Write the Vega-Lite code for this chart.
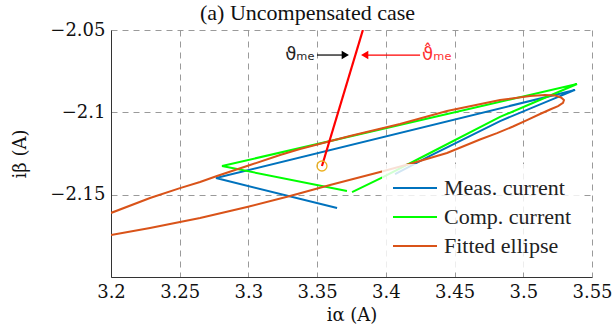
{
  "$schema": "https://vega.github.io/schema/vega-lite/v6.json",
  "width": 481,
  "height": 247,
  "autosize": {"type": "none"},
  "padding": {"left": 111, "top": 30, "right": 21, "bottom": 53},
  "background": "white",
  "title": {"text": "(a) Uncompensated case", "fontSize": 22, "font": "Liberation Serif", "fontWeight": "normal", "color": "#111", "anchor": "middle", "dx": -44, "offset": -4},
  "datasets": {
    "series": [
      {"s": "Meas. current", "o": 1, "x": 3.3645, "y": -2.1581},
      {"s": "Meas. current", "o": 2, "x": 3.2764, "y": -2.1399},
      {"s": "Meas. current", "o": 3, "x": 3.5377, "y": -2.0864},
      {"s": "Meas. current", "o": 4, "x": 3.4831, "y": -2.1053},
      {"s": "Meas. current", "o": 5, "x": 3.4321, "y": -2.1265},
      {"s": "Meas. current", "o": 6, "x": 3.4067, "y": -2.1375},
      {"s": "Comp. current", "o": 1, "x": 3.3754, "y": -2.1484},
      {"s": "Comp. current", "o": 2, "x": 3.3979, "y": -2.1393},
      {"s": "Comp. current", "o": 3, "x": 3.4321, "y": -2.1247},
      {"s": "Comp. current", "o": 4, "x": 3.4831, "y": -2.1028},
      {"s": "Comp. current", "o": 5, "x": 3.5391, "y": -2.0828},
      {"s": "Comp. current", "o": 6, "x": 3.2808, "y": -2.1326},
      {"s": "Comp. current", "o": 7, "x": 3.3717, "y": -2.1478},
      {"s": "Fitted ellipse", "o": 1, "x": 3.2, "y": -2.1611},
      {"s": "Fitted ellipse", "o": 2, "x": 3.2284, "y": -2.152},
      {"s": "Fitted ellipse", "o": 3, "x": 3.2502, "y": -2.146},
      {"s": "Fitted ellipse", "o": 4, "x": 3.2648, "y": -2.1423},
      {"s": "Fitted ellipse", "o": 5, "x": 3.2771, "y": -2.1387},
      {"s": "Fitted ellipse", "o": 6, "x": 3.3012, "y": -2.132},
      {"s": "Fitted ellipse", "o": 7, "x": 3.323, "y": -2.1259},
      {"s": "Fitted ellipse", "o": 8, "x": 3.3375, "y": -2.1223},
      {"s": "Fitted ellipse", "o": 9, "x": 3.3739, "y": -2.1144},
      {"s": "Fitted ellipse", "o": 10, "x": 3.4103, "y": -2.1071},
      {"s": "Fitted ellipse", "o": 11, "x": 3.4445, "y": -2.0992},
      {"s": "Fitted ellipse", "o": 12, "x": 3.4831, "y": -2.0925},
      {"s": "Fitted ellipse", "o": 13, "x": 3.5049, "y": -2.0901},
      {"s": "Fitted ellipse", "o": 14, "x": 3.5158, "y": -2.0895},
      {"s": "Fitted ellipse", "o": 15, "x": 3.5231, "y": -2.0898},
      {"s": "Fitted ellipse", "o": 16, "x": 3.5275, "y": -2.091},
      {"s": "Fitted ellipse", "o": 17, "x": 3.5296, "y": -2.0925},
      {"s": "Fitted ellipse", "o": 18, "x": 3.5289, "y": -2.0943},
      {"s": "Fitted ellipse", "o": 19, "x": 3.5253, "y": -2.0962},
      {"s": "Fitted ellipse", "o": 20, "x": 3.5195, "y": -2.0983},
      {"s": "Fitted ellipse", "o": 21, "x": 3.5122, "y": -2.101},
      {"s": "Fitted ellipse", "o": 22, "x": 3.5027, "y": -2.1047},
      {"s": "Fitted ellipse", "o": 23, "x": 3.4925, "y": -2.1086},
      {"s": "Fitted ellipse", "o": 24, "x": 3.4809, "y": -2.1126},
      {"s": "Fitted ellipse", "o": 25, "x": 3.4685, "y": -2.1165},
      {"s": "Fitted ellipse", "o": 26, "x": 3.4445, "y": -2.1247},
      {"s": "Fitted ellipse", "o": 27, "x": 3.4198, "y": -2.1308},
      {"s": "Fitted ellipse", "o": 28, "x": 3.3958, "y": -2.1362},
      {"s": "Fitted ellipse", "o": 29, "x": 3.3594, "y": -2.1441},
      {"s": "Fitted ellipse", "o": 30, "x": 3.3303, "y": -2.1508},
      {"s": "Fitted ellipse", "o": 31, "x": 3.299, "y": -2.1575},
      {"s": "Fitted ellipse", "o": 32, "x": 3.2648, "y": -2.1642},
      {"s": "Fitted ellipse", "o": 33, "x": 3.2502, "y": -2.1666},
      {"s": "Fitted ellipse", "o": 34, "x": 3.2284, "y": -2.1702},
      {"s": "Fitted ellipse", "o": 35, "x": 3.2, "y": -2.1745}
    ],
    "angle": [
      {"o": 1, "x": 3.3535, "y": -2.1326},
      {"o": 2, "x": 3.3833, "y": -2.05}
    ],
    "center": [{"x": 3.3535, "y": -2.1326}],
    "arrowMeas": [{"x": 3.3499, "x2": 3.3705, "y": -2.0652, "label": "ϑₘₑ"}],
    "arrowEst": [{"x": 3.4249, "x2": 3.3846, "y": -2.0652, "label": "ϑ̂ₘₑ"}]
  },
  "layer": [
    {
      "data": {"name": "series"},
      "mark": {"type": "line", "strokeWidth": 2, "clip": true},
      "encoding": {
        "x": {"field": "x", "type": "quantitative",
          "scale": {"domain": [3.2, 3.55], "nice": false, "zero": false},
          "axis": {"values": [3.2, 3.25, 3.3, 3.35, 3.4, 3.45, 3.5, 3.55], "format": "~g", "title": "iα (A)", "titlePadding": 5}},
        "y": {"field": "y", "type": "quantitative",
          "scale": {"domain": [-2.2, -2.05], "nice": false, "zero": false},
          "axis": {"values": [-2.2, -2.15, -2.1, -2.05], "format": "~g", "labelExpr": "datum.value < -2.19 ? '' : datum.label", "title": "iβ (A)", "titlePadding": 20}},
        "color": {"field": "s", "type": "nominal",
          "scale": {"domain": ["Meas. current", "Comp. current", "Fitted ellipse"], "range": ["#0072BD", "#00FF00", "#D95319"]},
          "legend": {"orient": "bottom-right", "offset": 8, "title": null, "symbolType": "M-2,0H2", "symbolSize": 484, "symbolOffset": 9, "symbolStrokeWidth": 2, "labelFontSize": 22, "labelFont": "Liberation Serif", "labelColor": "#222", "fillColor": "rgba(255,255,255,0.82)", "padding": 12, "rowPadding": 6, "labelOffset": 17, "labelLimit": 300}},
        "order": {"field": "o", "type": "quantitative"}
      }
    },
    {
      "data": {"name": "angle"},
      "mark": {"type": "line", "color": "#FF0000", "strokeWidth": 2.2, "clip": true},
      "encoding": {
        "x": {"field": "x", "type": "quantitative"},
        "y": {"field": "y", "type": "quantitative"},
        "order": {"field": "o", "type": "quantitative"}
      }
    },
    {
      "data": {"name": "center"},
      "mark": {"type": "point", "shape": "circle", "filled": false, "color": "#EDB120", "size": 100, "strokeWidth": 1.3, "opacity": 1},
      "encoding": {
        "x": {"field": "x", "type": "quantitative"},
        "y": {"field": "y", "type": "quantitative"}
      }
    },
    {
      "data": {"name": "arrowMeas"},
      "mark": {"type": "rule", "strokeWidth": 1.2, "color": "#000000"},
      "encoding": {
        "x": {"field": "x", "type": "quantitative"},
        "x2": {"field": "x2"},
        "y": {"field": "y", "type": "quantitative"}
      }
    },
    {
      "data": {"name": "arrowMeas"},
      "mark": {"type": "point", "shape": "triangle-right", "filled": true, "size": 70, "opacity": 1, "color": "#000000"},
      "encoding": {
        "x": {"field": "x2", "type": "quantitative"},
        "y": {"field": "y", "type": "quantitative"}
      }
    },
    {
      "data": {"name": "arrowMeas"},
      "mark": {"type": "text", "fontSize": 18, "font": "DejaVu Sans", "baseline": "middle", "align": "right", "dx": -2, "color": "#222222"},
      "encoding": {
        "x": {"field": "x", "type": "quantitative"},
        "y": {"field": "y", "type": "quantitative"},
        "text": {"field": "label"}
      }
    },
    {
      "data": {"name": "arrowEst"},
      "mark": {"type": "rule", "strokeWidth": 1.2, "color": "#FF0000"},
      "encoding": {
        "x": {"field": "x", "type": "quantitative"},
        "x2": {"field": "x2"},
        "y": {"field": "y", "type": "quantitative"}
      }
    },
    {
      "data": {"name": "arrowEst"},
      "mark": {"type": "point", "shape": "triangle-left", "filled": true, "size": 70, "opacity": 1, "color": "#FF0000"},
      "encoding": {
        "x": {"field": "x2", "type": "quantitative"},
        "y": {"field": "y", "type": "quantitative"}
      }
    },
    {
      "data": {"name": "arrowEst"},
      "mark": {"type": "text", "fontSize": 18, "font": "DejaVu Sans", "baseline": "middle", "align": "left", "dx": 2, "color": "#FF3030"},
      "encoding": {
        "x": {"field": "x", "type": "quantitative"},
        "y": {"field": "y", "type": "quantitative"},
        "text": {"field": "label"}
      }
    }
  ],
  "config": {
    "font": "DejaVu Serif",
    "view": {"stroke": null},
    "axis": {
      "grid": true,
      "gridDash": [6, 5],
      "gridColor": "#9a9a9a",
      "gridWidth": 1,
      "domainColor": "#333333",
      "domainWidth": 1,
      "ticks": false,
      "labelFontSize": 18,
      "labelFont": "DejaVu Serif",
      "labelColor": "#111111",
      "labelPadding": 6,
      "titleFontSize": 18,
      "titleFont": "DejaVu Serif",
      "titleFontWeight": "normal",
      "titleColor": "#111111",
      "labelFlush": false
    }
  }
}
